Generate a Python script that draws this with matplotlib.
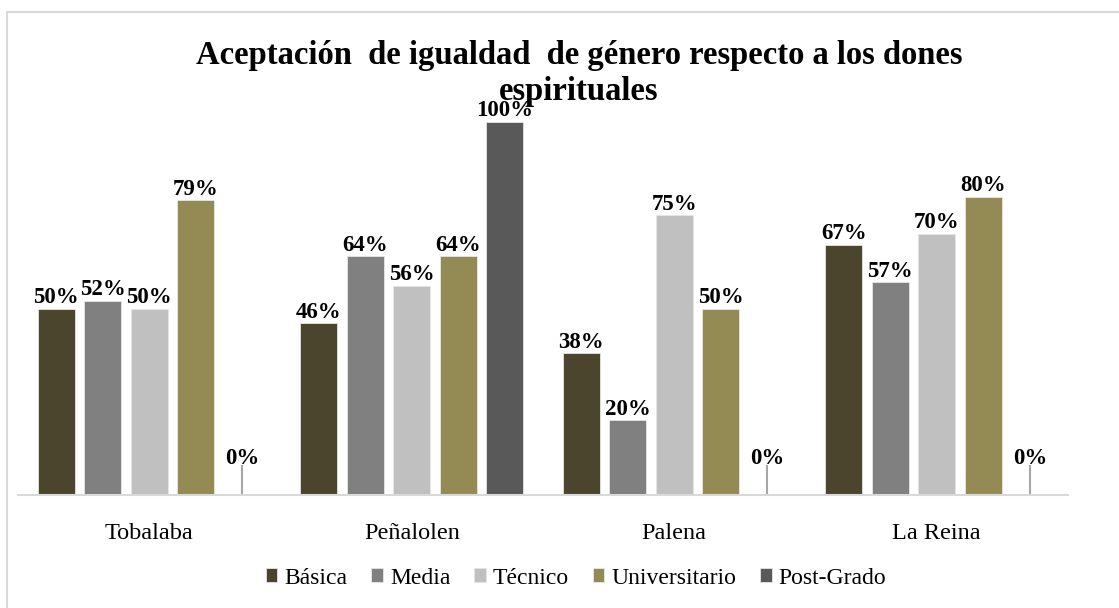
import matplotlib
matplotlib.use("Agg")
import matplotlib.pyplot as plt
from matplotlib.patches import Rectangle
import numpy as np

categories = ["Tobalaba", "Peñalolen", "Palena", "La Reina"]
series_names = ["Básica", "Media", "Técnico", "Universitario", "Post-Grado"]
basica = [0.50, 0.46, 0.38, 0.67]
media = [0.52, 0.64, 0.20, 0.57]
tecnico = [0.50, 0.56, 0.75, 0.70]
universitario = [0.79, 0.64, 0.50, 0.80]
postgrado = [0.00, 1.00, 0.00, 0.00]
series_values = [basica, media, tecnico, universitario, postgrado]
colors = ["#4A452C", "#808080", "#C0C0C0", "#948A54", "#595959"]
title = "Aceptación  de igualdad  de género respecto a los dones\nespirituales"

W, H = 1119, 608
fig = plt.figure(figsize=(W / 100, H / 100), dpi=100)
fig.patch.set_facecolor("white")

# outer chart frame
fig.add_artist(Rectangle((7 / W, -0.1), 1.2, 1.1 - 12 / H, transform=fig.transFigure,
                         fill=False, edgecolor="#D9D9D9", linewidth=1.5))

ax = fig.add_axes([18 / W, (H - 495) / H, (1068 - 18) / W, (495 - 122) / H])
ax.set_xlim(-0.5, 3.5)
ax.set_ylim(0, 1.0)

x = np.arange(len(categories))
step = 46.5 / 262.5
width = 37 / 262.5
serif = "Liberation Serif"

for i, (name, vals, col) in enumerate(zip(series_names, series_values, colors)):
    pos = x + (i - 2) * step
    ax.bar(pos, vals, width, color=col, edgecolor="#E6E6E6", linewidth=0.6, label=name, zorder=2)
    for px_, v in zip(pos, vals):
        if v == 0:
            ax.plot([px_, px_], [0, 30 / 373], color="#A6A6A6", linewidth=1.5, zorder=1,
                    solid_capstyle="butt")
            ax.annotate("0%", (px_, 30 / 373), xytext=(0, -3), textcoords="offset points",
                        ha="center", va="bottom", fontsize=16.5, fontweight="bold",
                        family=serif, color="black")
        else:
            ax.annotate(f"{round(v * 100)}%", (px_, v), xytext=(0, 0.5), textcoords="offset points",
                        ha="center", va="bottom", fontsize=16.5, fontweight="bold",
                        family=serif, color="black", clip_on=False)

for s in ["top", "left", "right"]:
    ax.spines[s].set_visible(False)
ax.spines["bottom"].set_color("#D9D9D9")
ax.spines["bottom"].set_linewidth(1.5)
ax.set_yticks([])
ax.set_xticks(x)
ax.set_xticklabels(categories, fontsize=17.5, family=serif)
ax.tick_params(axis="x", length=0, pad=20)

fig.text(579 / W, 1 - 40 / H, title, ha="center", va="top", fontsize=23.5,
         fontweight="bold", family=serif, linespacing=1.22)

leg = fig.legend(loc="center", bbox_to_anchor=(576 / W, 1 - 578 / H), ncol=5, frameon=False,
                 prop={"family": serif, "size": 17}, handlelength=0.5, handleheight=0.5,
                 handletextpad=0.3, columnspacing=1.0)

fig.savefig("out.png", dpi=100, facecolor="white")
